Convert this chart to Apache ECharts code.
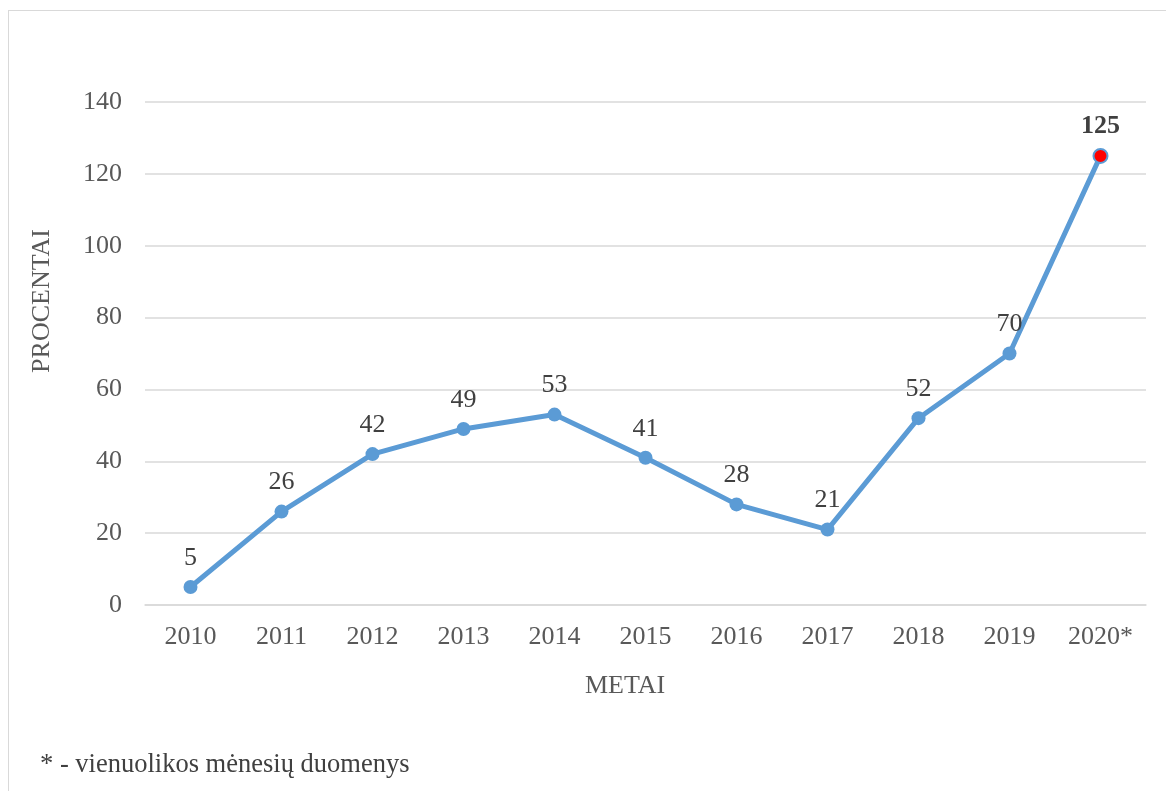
<!DOCTYPE html>
<html>
<head>
<meta charset="utf-8">
<script src="https://cdn.jsdelivr.net/npm/echarts@6/dist/echarts.min.js"></script>
<style>
  html, body { margin: 0; padding: 0; background: #fff; overflow: hidden; }
  #frame { position: absolute; left: 8px; top: 10px; width: 1200px; height: 800px; border: 1px solid #d9d9d9; box-sizing: border-box; }
  #main { position: absolute; left: 0; top: 0; width: 1166px; height: 791px; }
</style>
</head>
<body>
<div id="frame"></div>
<div id="main"></div>
<script>
// metai ir procentai
var years = ['2010', '2011', '2012', '2013', '2014', '2015', '2016', '2017', '2018', '2019', '2020*'];
var values = [5, 26, 42, 49, 53, 41, 28, 21, 52, 70, 125];
var yTicks = [0, 20, 40, 60, 80, 100, 120, 140];

var serif = '"Liberation Serif", "DejaVu Serif", serif';
var blue = '#5b9bd5';

// paskutinis taškas paryškintas raudonai
var points = values.map(function (v, i) {
    if (i === values.length - 1) {
        return {
            value: v,
            itemStyle: { color: '#ff0000', borderColor: blue, borderWidth: 2 },
            label: { fontWeight: 'bold', color: '#404040' }
        };
    }
    return v;
});

var myChart = echarts.init(document.getElementById('main'), null, { renderer: 'canvas' });
myChart.setOption({
    animation: false,
    grid: { left: 145, right: 20, top: 102, bottom: 186 },
    xAxis: {
        type: 'category',
        data: years,
        boundaryGap: true,
        axisLine: { show: true, lineStyle: { color: '#d9d9d9', width: 1.5 } },
        axisTick: { show: false },
        axisLabel: { fontFamily: serif, fontSize: 26, color: '#595959', margin: 19 }
    },
    yAxis: {
        type: 'value',
        min: yTicks[0],
        max: yTicks[yTicks.length - 1],
        interval: 20,
        axisLine: { show: false },
        axisTick: { show: false },
        splitLine: { lineStyle: { color: '#d9d9d9', width: 1.5 } },
        axisLabel: { fontFamily: serif, fontSize: 26, color: '#595959', margin: 23, padding: [4, 0, 0, 0] }
    },
    series: [{
        type: 'line',
        data: points,
        symbol: 'circle',
        symbolSize: 14,
        lineStyle: { color: blue, width: 5 },
        itemStyle: { color: blue },
        label: {
            show: true,
            position: 'top',
            distance: 9,
            fontFamily: serif,
            fontSize: 26,
            color: '#404040'
        }
    }],
    graphic: [
        {
            type: 'text',
            left: 627 - 42, top: 673,
            style: { text: 'METAI', font: '26px ' + serif, fill: '#595959' }
        },
        {
            type: 'text',
            x: 42, y: 301,
            rotation: Math.PI / 2,
            style: { text: 'PROCENTAI', font: '26px ' + serif, fill: '#595959', align: 'center', verticalAlign: 'middle' }
        },
        {
            type: 'text',
            left: 40, top: 752,
            style: { text: '* - vienuolikos mėnesių duomenys', font: '26.5px ' + serif, fill: '#404040' }
        }
    ]
});
</script>
</body>
</html>
